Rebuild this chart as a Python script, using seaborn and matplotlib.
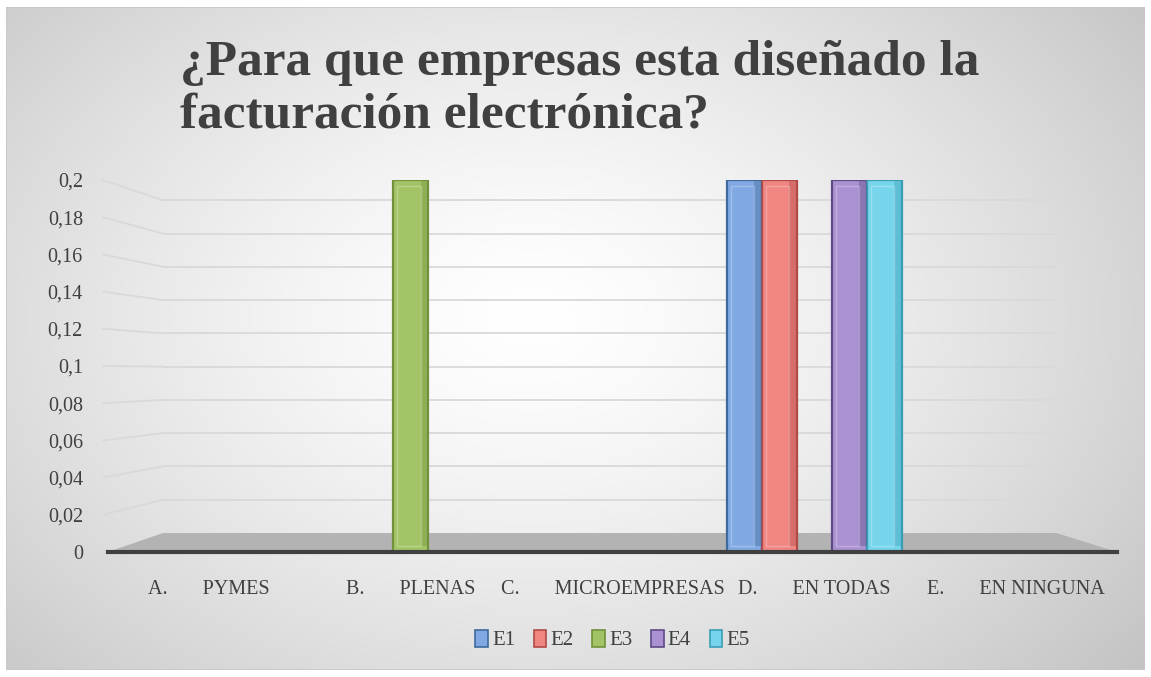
import numpy as np
import pandas as pd
import matplotlib
matplotlib.use("Agg")
import matplotlib.pyplot as plt
import seaborn as sns
from matplotlib.patches import Polygon, Rectangle

categories = ["A.       PYMES", "B.       PLENAS", "C.       MICROEMPRESAS",
              "D.       EN TODAS", "E.       EN NINGUNA"]
series = ["E1", "E2", "E3", "E4", "E5"]
E1 = [0, 0, 0, 0.2, 0]
E2 = [0, 0, 0, 0.2, 0]
E3 = [0, 0.2, 0, 0, 0]
E4 = [0, 0, 0, 0.2, 0]
E5 = [0, 0, 0, 0.2, 0]
yticks = [0, 0.02, 0.04, 0.06, 0.08, 0.1, 0.12, 0.14, 0.16, 0.18, 0.2]
ytick_labels = ["0", "0,02", "0,04", "0,06", "0,08", "0,1", "0,12", "0,14",
                "0,16", "0,18", "0,2"]
title = "¿Para que empresas esta diseñado la\nfacturación electrónica?"

colors = ["#80a9e3", "#ef8682", "#a3c466", "#aa92d2", "#76d5ea"]
edges = ["#3f6a9c", "#b04a46", "#71913a", "#5e4a85", "#3a9db8"]

rows = []
for name, vals in zip(series, [E1, E2, E3, E4, E5]):
    for c, v in zip(categories, vals):
        rows.append({"cat": c, "serie": name, "val": v})
df = pd.DataFrame(rows)

sns.set_theme(style="white")
plt.rcParams["font.family"] = ["Liberation Serif", "DejaVu Serif"]

W, H = 1151, 677
fig = plt.figure(figsize=(W / 100, H / 100), dpi=100)
fig.patch.set_facecolor("white")

# radial gradient background
bg = fig.add_axes([6 / W, 7 / H, (1145 - 6) / W, (670 - 7) / H])
yy, xx = np.mgrid[0:300, 0:500]
cx, cy = 230, 140
r = np.sqrt(((xx - cx) / 330.0) ** 2 + ((yy - cy) / 240.0) ** 2)
g = 1.0 - 0.22 * np.clip(r, 0, 1.3) ** 1.4
g = np.clip(g, 0.76, 1.0)
bg.imshow(np.dstack([g, g, g]), aspect="auto", extent=[0, 1, 0, 1], origin="upper")
bg.set_axis_off()
bg.add_patch(Rectangle((0, 0), 1, 1, transform=bg.transAxes, fill=False,
                       edgecolor="#c8c8c8", lw=1.2))

# main axes: x 108..1117 px, y 180..552 px
ax = fig.add_axes([108 / W, (H - 552) / H, (1117 - 108) / W, (552 - 180) / H])
ax.patch.set_alpha(0)

# back-wall gridlines (perspective-like)
for v in yticks[1:]:
    yb = 0.0102 + 0.8946 * v
    ax.plot([-0.005, 0.0545], [v, yb], transform=ax.get_yaxis_transform(),
            color="#d9d9d9", lw=1.3, clip_on=False, zorder=0)
    ax.plot([0.0545, 0.94], [yb, yb], transform=ax.get_yaxis_transform(),
            color="#d9d9d9", lw=1.3, clip_on=False, zorder=0)

# floor
floor = Polygon([(0.0, 0.0), (0.0545, 0.0102), (0.94, 0.0102), (1.0, 0.0)],
                closed=True, transform=ax.get_yaxis_transform(),
                facecolor="#b3b3b3", edgecolor="none", zorder=1, clip_on=False)
ax.add_patch(floor)

sns.barplot(data=df, x="cat", y="val", hue="serie", palette=colors,
            saturation=1, width=0.87, ax=ax, legend=True, zorder=3)

for cont, ec in zip(ax.containers, edges):
    for p in cont:
        p.set_edgecolor(ec)
        p.set_linewidth(1.6)
        if p.get_height() > 0:
            x0, w, h = p.get_x(), p.get_width(), p.get_height()
            ax.add_patch(Rectangle((x0 + w * 0.78, 0.003), w * 0.22, h - 0.003,
                                   facecolor=ec, alpha=0.4, edgecolor="none",
                                   zorder=4))
            ax.add_patch(Rectangle((x0 + w * 0.12, 0.003), w * 0.66, h - 0.006,
                                   facecolor="none", edgecolor="white",
                                   alpha=0.25, lw=1.0, zorder=4))

ax.set_xlim(-0.5, 4.5)
ax.set_ylim(0, 0.2)
ax.set_yticks(yticks)
ax.set_yticklabels(ytick_labels, fontsize=14.5, color="#404040")
ax.tick_params(axis="y", length=0, pad=18)
ax.tick_params(axis="x", length=0, pad=20, labelsize=14.5, labelcolor="#404040")
ax.set_xlabel("")
ax.set_ylabel("")
for s in ["top", "right", "left"]:
    ax.spines[s].set_visible(False)
ax.spines["bottom"].set_color("#404040")
ax.spines["bottom"].set_linewidth(3)
ax.spines["bottom"].set_zorder(5)

leg = ax.legend(loc="center", bbox_to_anchor=(0.5, (552 - 640) / (552 - 180)),
                ncol=5, frameon=False, fontsize=15, handlelength=0.6,
                handleheight=0.9, handletextpad=0.2, columnspacing=0.9)
for t in leg.get_texts():
    t.set_color("#404040")
for h_, ec in zip(leg.legend_handles, edges):
    h_.set_edgecolor(ec)
    h_.set_linewidth(1.2)

fig.text(180 / W, 1 - 40 / H, title, ha="left", va="top", fontsize=37,
         fontweight="bold", color="#404040", linespacing=1.2,
         family=["Liberation Serif", "DejaVu Serif"])

fig.savefig("out.png", dpi=100)
